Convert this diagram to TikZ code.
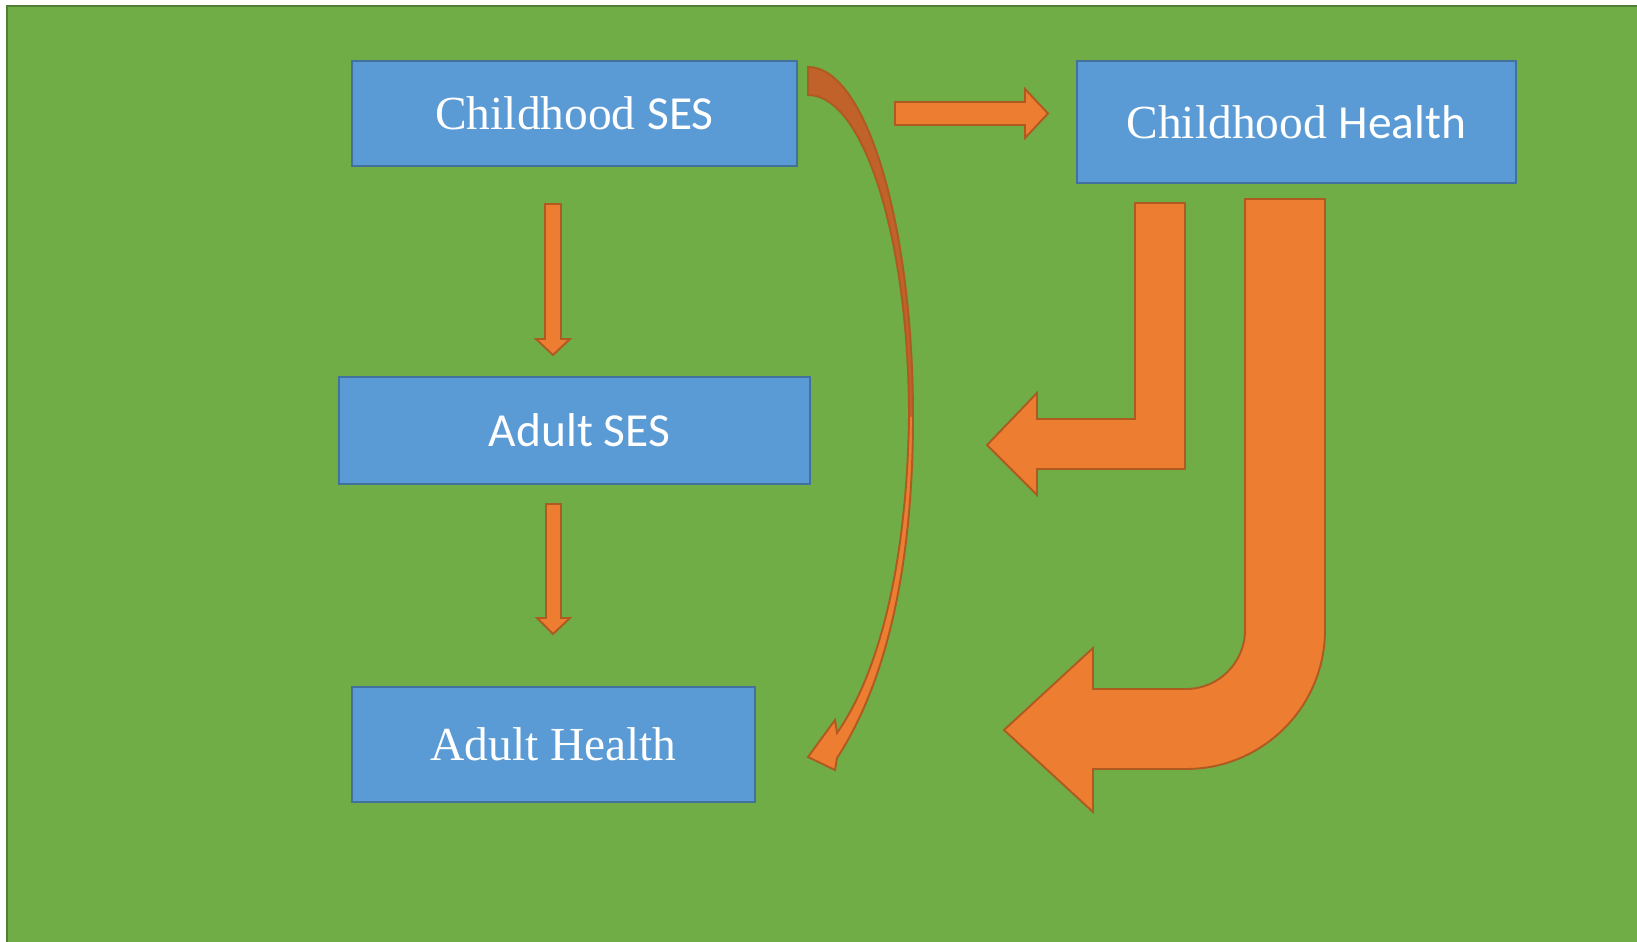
\documentclass[tikz,border=0pt]{standalone}
\usepackage{fontspec}
\setmainfont{Liberation Serif}
\newfontfamily\calibri{Carlito}
\usepackage{xcolor}
\definecolor{bggreen}{HTML}{70AD47}
\definecolor{bgline}{HTML}{507E32}
\definecolor{boxblue}{HTML}{5B9BD5}
\definecolor{boxline}{HTML}{41719C}
\definecolor{arroworange}{HTML}{ED7D31}
\definecolor{arrowline}{HTML}{AE5A21}
\definecolor{arrowdark}{HTML}{C0622A}
\tikzset{
    varbox/.style    = {draw=boxline, fill=boxblue, line width=1.3pt, text=white,
                        inner sep=0pt, font=\fontsize{27}{32}\selectfont},
    blockarrow/.style = {draw=arrowline, fill=arroworange, line width=1.1pt, line join=miter},
    arrowrand/.style = {draw=arrowline, line width=1.1pt, line join=miter}
}

\begin{document}
\begin{tikzpicture}[x=0.02cm, y=-0.02cm]
        \useasboundingbox (0,0) rectangle (1637,942);
        % --- Hintergrund ---
        \fill[bggreen] (7,6) rectangle (1637,942);
        \draw[bgline, line width=1.4pt] (7,942) -- (7,6) -- (1637,6);

        % --- Variablen ---
        \node[varbox, minimum width=8.9cm,  minimum height=2.11cm] (cses)    at (574.5,113.5) {Childhood {\calibri SES}};
        \node[varbox, minimum width=8.78cm, minimum height=2.44cm] (chealth) at (1296.5,122)  {Childhood {\calibri Health}};
        \node[varbox, minimum width=9.42cm, minimum height=2.14cm] (ases)    at (574.5,430.5) {\calibri\hspace{0.2cm}Adult SES};
        \node[varbox, minimum width=8.06cm, minimum height=2.3cm]  (ahealth) at (553.5,744.5) {Adult Health};

        % --- gerade Pfeile ---
        \draw[blockarrow] (545,204) -- (561,204) -- (561,339) -- (570,339) -- (553,355) -- (536,339) -- (545,339) -- cycle;
        \draw[blockarrow] (546,504) -- (561,504) -- (561,618) -- (570,618) -- (553,634) -- (537,618) -- (546,618) -- cycle;
        \draw[blockarrow] (895,102) -- (1025,102) -- (1025,89) -- (1048,113.5) -- (1025,138) -- (1025,125) -- (895,125) -- cycle;

        % --- geknickte Pfeile ---
        \draw[blockarrow] (1135,203) -- (1185,203) -- (1185,469) -- (1037,469) -- (1037,495) -- (987,445)
            -- (1037,393) -- (1037,419) -- (1135,419) -- cycle;
        \draw[blockarrow] (1245,199) -- (1325,199) -- (1325,630) arc[start angle=0, end angle=90, radius=139]
            -- (1093,769) -- (1093,812) -- (1004,730) -- (1093,648) -- (1093,689) -- (1186,689)
            arc[start angle=90, end angle=0, radius=59] -- cycle;

        % --- gebogener Pfeil (Rueckseite dunkel, Vorderseite hell) ---
        \fill[arrowdark] (808,67) .. controls (866,67) and (913,224) .. (913,417) -- (909,417)
            .. controls (909,240) and (864,95) .. (808,95) -- cycle;
        \fill[arroworange] (913,417) .. controls (913,567) and (886,683) .. (837,758) -- (835,770) -- (808,757)
            -- (835,720) -- (837,733) .. controls (880,672) and (907,560) .. (909,417) -- cycle;
        \draw[arrowrand] (808,67) .. controls (866,67) and (913,224) .. (913,417)
            .. controls (913,567) and (886,683) .. (837,758) -- (835,770) -- (808,757)
            -- (835,720) -- (837,733) .. controls (880,672) and (907,560) .. (909,417)
            .. controls (909,240) and (864,95) .. (808,95) -- cycle;
    \end{tikzpicture}
\end{document}
